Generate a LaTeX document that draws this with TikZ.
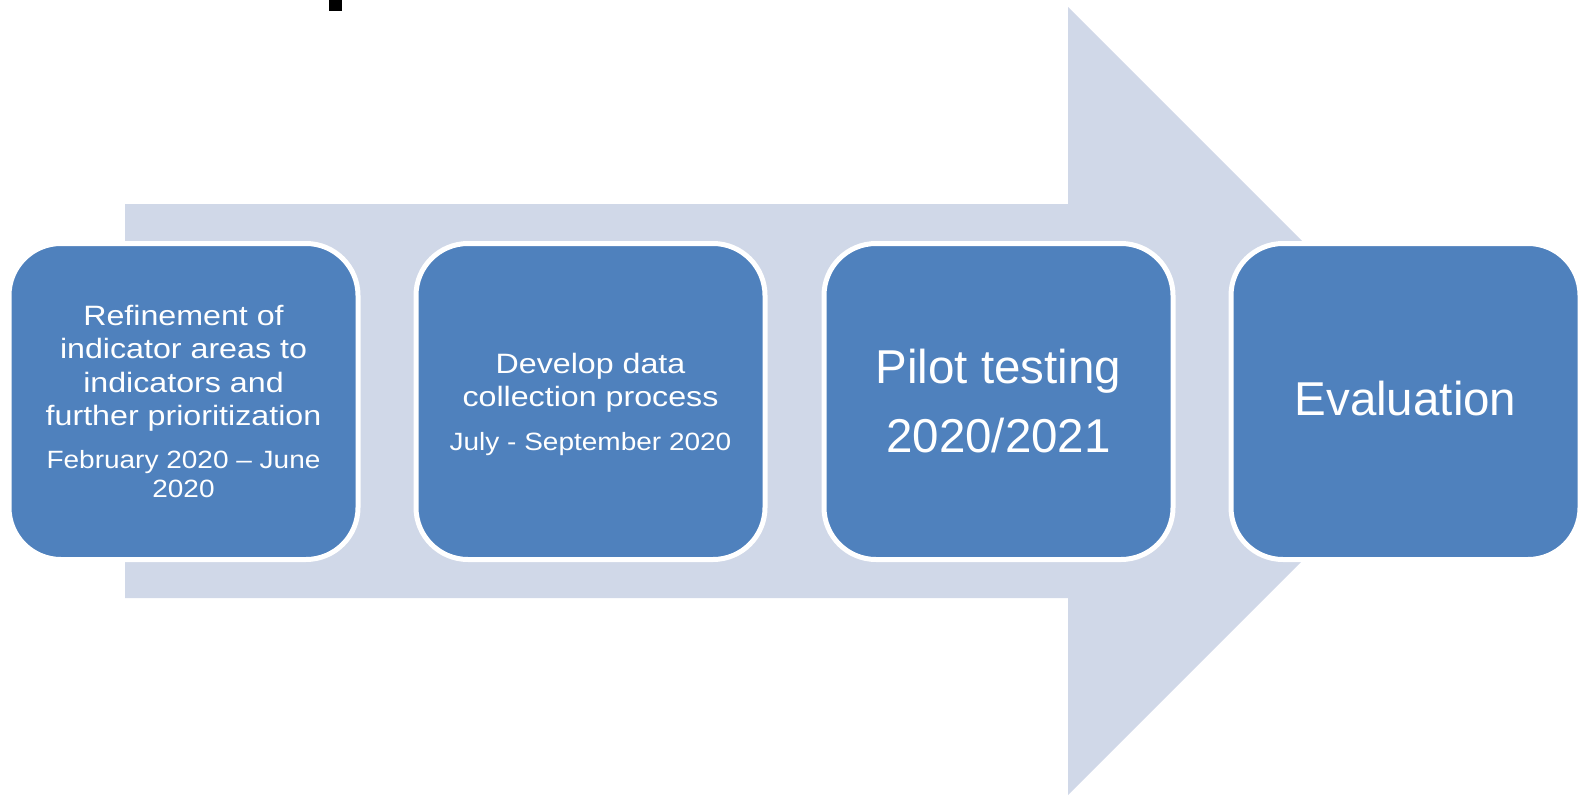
\documentclass[tikz,border=0pt]{standalone}
\usepackage{fontspec}
\setmainfont{Liberation Sans}
\definecolor{stepblue}{RGB}{79,129,189}
\definecolor{arrowgray}{RGB}{208,216,232}
\newcommand\hstretchA[1]{\scalebox{1.15}[1]{#1}}
\newcommand\hstretchB[1]{\scalebox{1.12}[1]{#1}}
\begin{document}
\begin{tikzpicture}[x=1pt,y=-1pt,
  stepbox/.style={rectangle,minimum width=349pt,minimum height=316pt,inner sep=0pt,
    rounded corners=52pt,fill=stepblue,draw=white,line width=5pt},
  txtA/.style={anchor=base,inner sep=0pt,text=white,font=\fontsize{28}{33}\selectfont},
  txtB/.style={anchor=base,inner sep=0pt,text=white,font=\fontsize{25}{29}\selectfont},
  txtC/.style={anchor=base,inner sep=0pt,text=white,font=\fontsize{47.5}{55}\selectfont}]
\useasboundingbox (0,0) rectangle (1578,795);
% big background arrow
\fill[arrowgray] (125,204) -- (1068,204) -- (1068,7) -- (1462,401) -- (1068,795)
  -- (1068,598) -- (125,598) -- cycle;
% black mark at top
\fill[black] (329,0) rectangle (342,11);
% boxes
\node[stepbox] (b1) at (183.5,401.5) {};
\node[stepbox] (b2) at (590.5,401.5) {};
\node[stepbox] (b3) at (998.5,401.5) {};
\node[stepbox] (b4) at (1405.5,401.5) {};
% box 1 text
\node[txtA] (t11) at (183.5,325) {\hstretchA{Refinement of}};
\node[txtA] (t12) at (183.5,358) {\hstretchA{indicator areas to}};
\node[txtA] (t13) at (183.5,392) {\hstretchA{indicators and}};
\node[txtA] (t14) at (183.5,425) {\hstretchA{further prioritization}};
\node[txtB] (t15) at (183.5,468) {\hstretchB{February 2020 – June}};
\node[txtB] (t16) at (183.5,497) {\hstretchB{2020}};
% box 2 text
\node[txtA] (t21) at (590.5,373) {\hstretchA{Develop data}};
\node[txtA] (t22) at (590.5,406) {\hstretchA{collection process}};
\node[txtB] (t23) at (590.5,450) {\hstretchB{July - September 2020}};
% box 3 text
\node[txtC] (t31) at (998.5,383) {Pilot testing};
\node[txtC] (t32) at (998.5,452) {2020/2021};
% box 4 text
\node[txtC] (t41) at (1405.5,415) {Evaluation};
\end{tikzpicture}
\end{document}
